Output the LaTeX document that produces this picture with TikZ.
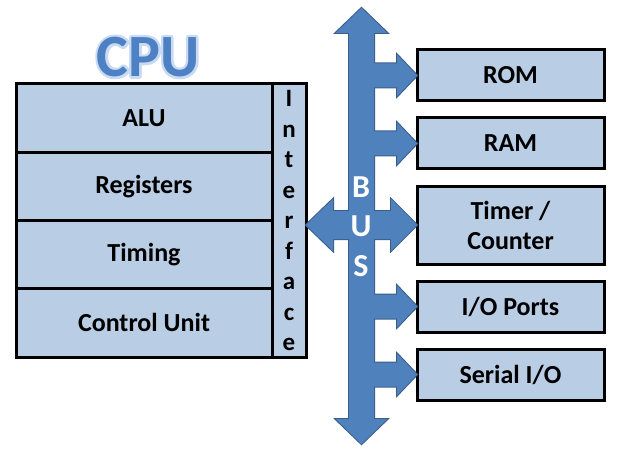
\documentclass[tikz,border=0pt]{standalone}
\usepackage{fontspec}
\setmainfont{Carlito}
\usepackage{xcolor}
\usetikzlibrary{positioning,calc}
\definecolor{boxblue}{RGB}{185,205,229}
\definecolor{busblue}{RGB}{79,129,189}
\definecolor{busline}{RGB}{56,93,138}
\definecolor{cpublue}{RGB}{78,128,196}

% Umriss (Glow) um den Schriftzug: erst konturiert, dann gefuellt
\newcommand\glowtext[1]{%
  \special{pdf:literal direct 1 j 5 w 0.79 0.86 0.95 RG 1 Tr}\rlap{#1}%
  \special{pdf:literal direct 0 Tr}#1}

% Pfeilformen am Bus
\newcommand\busshapes[1]{%
  % Bus senkrecht
  \path[#1] (bustop) -- ++(26,-25) -- ++(-13.5,0) -- ($(busbot)+(12.5,25)$) -- ++(13.5,0)
        -- (busbot) -- ++(-26,25) -- ++(13.5,0) -- ($(bustop)+(-12.5,-25)$) -- ++(-13.5,0) -- cycle;
  % Doppelpfeil Interface <-> Timer
  \path[#1] (intf.east |- timer.west) -- ++(27,26) -- ++(0,-12) -- ($(timer.west)+(-26,14)$) -- ++(0,12)
        -- (timer.west) -- ++(-26,-26) -- ++(0,12) -- ($(intf.east |- timer.west)+(27,-14)$) -- ++(0,-12) -- cycle;
  % Pfeile zu den Bausteinen
  \foreach \b in {rom,ram,io,sio}{
    \path[#1] ($(bustop |- \b.west)+(0,12)$) -- ($(\b.west)+(-20,12)$) -- ++(0,9) -- (\b.west)
          -- ++(-20,-21) -- ++(0,9) -- ($(bustop |- \b.west)+(0,-12)$) -- cycle;
  }%
}

\begin{document}
\begin{tikzpicture}[x=1pt,y=1pt,
  block/.style={draw=black,line width=3pt,fill=boxblue,outer sep=0pt,inner sep=0pt,
                font=\fontsize{26}{30}\selectfont\bfseries},
  unit/.style={block,minimum width=256pt,minimum height=68.25pt},
  device/.style={block,minimum width=187pt,minimum height=51pt,align=center},
  buslabel/.style={text=white,font=\fontsize{32}{32}\selectfont\bfseries}]

\useasboundingbox (0,0) rectangle (621,456);

% CPU-Block
\node[unit] (alu) at (144,337.875) {ALU};
\node[unit,below=0pt of alu] (reg) {Registers};
\node[unit,below=0pt of reg] (tim) {Timing};
\node[unit,below=0pt of tim] (ctl) {Control Unit};
\node[block,minimum width=34pt,minimum height=273pt,anchor=north west,align=center,
      font=\fontsize{25}{30.5}\selectfont\bfseries] (intf) at (alu.north east)
      {I\\n\\t\\e\\r\\f\\a\\c\\e};

% Ueberschrift
\node[above=7pt of alu.north,xshift=4pt,text=cpublue,font=\fontsize{60}{60}\selectfont\bfseries,inner sep=0pt]
  (cpu) {\glowtext{CPU}};

% Bausteine rechts
\node[device] (rom) at (510.5,380.5) {ROM};
\node[device,below=17pt of rom] (ram) {RAM};
\node[device,below=17pt of ram,minimum height=78pt] (timer) {Timer /\\Counter};
\node[device,below=17pt of timer] (io) {I/O Ports};
\node[device,below=17pt of io] (sio) {Serial I/O};

% Bus
\coordinate (bustop) at (361.5,448);
\coordinate (busbot) at (361.5,12);
\busshapes{draw=busline,line width=2pt,line join=miter}
\busshapes{fill=busblue}

\foreach \l/\y in {B/269,U/230,S/190}
  \node[buslabel] (bus\l) at (361,\y) {\l};

\end{tikzpicture}
\end{document}
